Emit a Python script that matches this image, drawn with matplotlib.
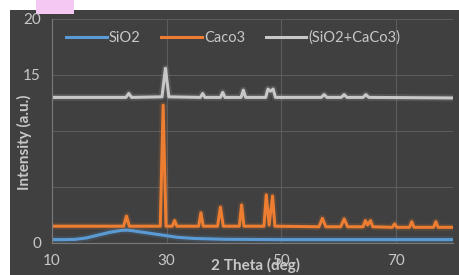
import matplotlib.pyplot as plt
from matplotlib.patches import Rectangle

plt.rcParams["font.family"] = ["Lato", "DejaVu Sans"]

# SiO2 - broad amorphous hump
theta_sio2 = [10, 12, 14, 16, 18, 20, 22, 23, 24, 26, 28, 30, 32, 35, 40, 50, 60, 70, 80]
sio2 = [0.3, 0.3, 0.32, 0.45, 0.7, 0.95, 1.12, 1.15, 1.1, 0.95, 0.8, 0.65, 0.5, 0.4, 0.33, 0.3, 0.3, 0.3, 0.3]

# CaCO3 - sharp calcite peaks
theta_caco3 = [10, 22.5, 23.0, 23.5, 28.9, 29.4, 29.9, 31.0, 31.4, 31.8,
               35.6, 36.0, 36.4, 38.9, 39.4, 39.9, 42.7, 43.1, 43.5,
               47.0, 47.4, 47.9, 48.5, 48.9, 56.6, 57.2, 57.8, 60.4, 61.0, 61.6,
               64.3, 64.7, 65.1, 65.6, 66.0, 69.4, 69.8, 70.2, 72.4, 72.8, 73.2,
               76.6, 77.0, 77.4, 80]
caco3 = [1.5, 1.5, 2.4, 1.5, 1.5, 12.3, 1.5, 1.5, 2.0, 1.5,
         1.5, 2.7, 1.5, 1.5, 3.2, 1.5, 1.5, 3.4, 1.5,
         1.5, 4.3, 1.6, 4.2, 1.5, 1.45, 2.2, 1.45, 1.45, 2.15, 1.45,
         1.45, 2.0, 1.6, 2.0, 1.45, 1.4, 1.7, 1.4, 1.4, 1.9, 1.4,
         1.4, 1.9, 1.4, 1.4]

# mixture
theta_mix = [10, 22.9, 23.4, 23.9, 29.2, 29.8, 30.4, 35.9, 36.3, 36.7,
             39.4, 39.8, 40.2, 43.0, 43.4, 43.8, 47.3, 47.7, 48.15, 48.6, 49.0,
             57.0, 57.5, 58.0, 60.5, 61.0, 61.5, 64.3, 64.8, 65.3, 80]
mix = [13.0, 13.0, 13.35, 13.0, 13.05, 15.6, 13.05, 13.0, 13.35, 13.0,
       13.0, 13.45, 13.0, 13.0, 13.65, 13.0, 13.0, 13.75, 13.55, 13.75, 13.0,
       13.0, 13.25, 13.0, 13.0, 13.25, 13.0, 13.0, 13.25, 13.0, 12.95]

bg = "#404040"
txt = "#c8c8c8"

fig = plt.figure(figsize=(4.6, 2.75), dpi=100)
fig.patch.set_facecolor("white")
# dark chart area and small pink mark at the top
fig.add_artist(Rectangle((10 / 460, 0), 450 / 460, 265 / 275, transform=fig.transFigure,
                         facecolor=bg, edgecolor="none", zorder=0))
fig.add_artist(Rectangle((36 / 460, 261 / 275), 38 / 460, 14 / 275, transform=fig.transFigure,
                         facecolor="#f5c8f3", edgecolor="none", zorder=1))

ax = fig.add_axes([52 / 460, 32 / 275, 401 / 460, 224 / 275])
ax.set_facecolor(bg)

series = [(theta_sio2, sio2, "#5b9bd5", "SiO2"),
          (theta_caco3, caco3, "#ed7d31", "Caco3"),
          (theta_mix, mix, "#c8c8c8", "(SiO2+CaCo3)")]
for th, vals, col, lab in series:
    ax.plot(th, vals, color=col, lw=5, alpha=0.15, solid_joinstyle="round")
    ax.plot(th, vals, color=col, lw=2.2, label=lab, solid_joinstyle="round")

ax.set_xlim(10, 80)
ax.set_ylim(0, 20)
ax.set_xticks([10, 30, 50, 70])
ax.set_yticks([0, 5, 10, 15, 20])
ax.set_yticklabels(["0", "", "", "15", "20"])
ax.grid(True, color="#5c5c5c", lw=0.8)
ax.set_axisbelow(True)
for s in ["top", "right"]:
    ax.spines[s].set_visible(False)
for s in ["left", "bottom"]:
    ax.spines[s].set_color("#7a7a7a")
ax.tick_params(colors=txt, labelsize=11, length=0, pad=8)

ax.set_xlabel("2 Theta (deg)", color=txt, fontsize=11, fontweight="bold")
ax.xaxis.set_label_coords(0.507, -0.065)
ax.set_ylabel("Intensity (a.u.)", color=txt, fontsize=11, fontweight="bold")
ax.yaxis.set_label_coords(-0.05, 0.45)

leg = ax.legend(loc="center left", bbox_to_anchor=(0.02, 0.915), ncol=3, frameon=False,
                fontsize=10.5, handlelength=2.8, handletextpad=0.15, columnspacing=1.4,
                borderaxespad=0)
for t in leg.get_texts():
    t.set_color(txt)

fig.savefig("out.png", dpi=100)
